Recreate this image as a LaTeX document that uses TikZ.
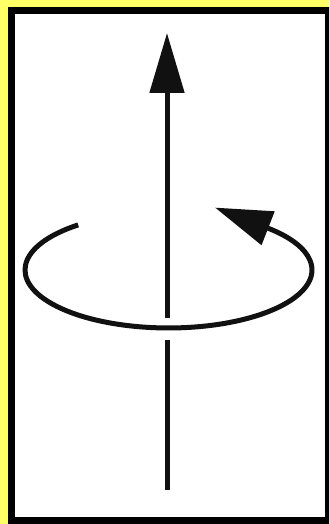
\documentclass[tikz,border=0pt]{standalone}
\usepackage{xcolor}
\usepackage{tikz}
\usetikzlibrary{arrows.meta}
\definecolor{frameyellow}{HTML}{FFFF66}
\definecolor{ink}{HTML}{111111}

\begin{document}
\begin{tikzpicture}[x=1pt,y=1pt,
  axisline/.style={draw=ink,line width=5pt},
  ringline/.style={draw=ink,line width=5pt}]
  \useasboundingbox (0,0) rectangle (329,524);
  \fill[frameyellow] (0,0) rectangle (329,524);
  \clip (0,0) rectangle (329,524);
  \draw[line width=7pt,fill=white] (11.5,3.5) rectangle (328.5,513.5);
  \coordinate (axisbot) at (167,34);
  \coordinate (gaplow) at (167,184);
  \coordinate (gaphigh) at (167,206);
  \coordinate (axistop) at (167,491);
  \coordinate (ringstart) at (78.2,299.1);
  \coordinate (ringend) at (268.2,295.7);
  \coordinate (ringtip) at (215,316.4);
  \draw[axisline] (axisbot) -- (gaplow);
  \draw[axisline,-{Triangle[length=60pt,width=34pt]}] (gaphigh) -- (axistop);
  \draw[ringline] (ringstart) arc[start angle=129,end angle=406,x radius=143.5,y radius=58];
  \draw[ringline,-{Triangle[length=57pt,width=35pt]}] (ringend) -- (ringtip);
\end{tikzpicture}
\end{document}
